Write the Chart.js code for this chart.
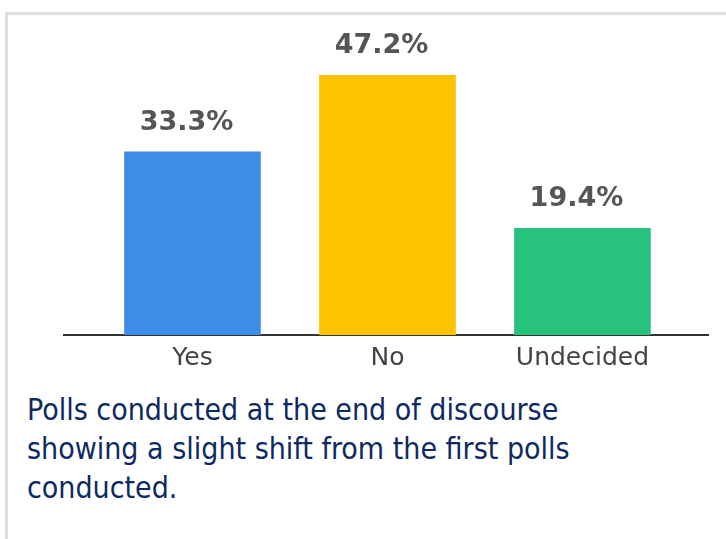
<!DOCTYPE html>
<html>
<head>
<meta charset="utf-8">
<script src="https://cdn.jsdelivr.net/npm/chart.js@4"></script>
<style>
  body { margin: 0; background: #fff; }
  #page { position: relative; width: 726px; height: 539px; overflow: hidden; }
  #frame { position: absolute; left: 5px; top: 12px; right: 0; bottom: 0;
           border-top: 3px solid #dedede; border-left: 3px solid #dedede; }
  #chartbox { position: absolute; left: 0; top: 0; width: 726px; height: 379px; }
  #caption { position: absolute; left: 27px; top: 390px; width: 690px;
             font-family: "DejaVu Sans Condensed", "DejaVu Sans", sans-serif; font-size: 30px;
             line-height: 39px; color: #0d2a62; }
</style>
</head>
<body>
<div id="page">
  <div id="frame"></div>
  <div id="chartbox"><canvas id="myChart" width="726" height="379"></canvas></div>
  <div id="caption">Polls conducted at the end of discourse<br>showing a slight shift from the first polls<br>conducted.</div>
</div>
<script>
var categories = ['Yes', 'No', 'Undecided']
var values = [33.3, 47.2, 19.4]
var valueLabels = ['33.3%', '47.2%', '19.4%']
var colors = ['#3e8de8', '#fdc300', '#27c27c']

var points = categories.map(function (c, i) { return { x: i, y: values[i] } })

// writes the percentage above each bar
var barLabels = {
    id: 'barLabels',
    afterDatasetsDraw: function (chart) {
        var ctx = chart.ctx
        var meta = chart.getDatasetMeta(0)
        ctx.save()
        ctx.font = 'bold 27px "DejaVu Sans", Verdana, sans-serif'
        ctx.fillStyle = '#555555'
        ctx.textAlign = 'center'
        ctx.textBaseline = 'middle'
        meta.data.forEach(function (bar, i) {
            ctx.fillText(valueLabels[i], bar.x - 6, bar.y - 29)
        })
        ctx.restore()
    }
}

function setChart() {
    var ctx = document.getElementById('myChart')
    new Chart(ctx, {
        type: 'bar',
        data: {
            datasets: [{
                data: points,
                backgroundColor: colors,
                borderWidth: 0,
                barThickness: 136
            }]
        },
        plugins: [barLabels],
        options: {
            responsive: false,
            animation: false,
            layout: { padding: { left: 64, right: 18, top: 60, bottom: 6 } },
            plugins: { legend: { display: false }, tooltip: { enabled: false } },
            scales: {
                x: {
                    type: 'linear',
                    offset: false,
                    min: -0.659,
                    max: 2.644,
                    grid: { display: false },
                    border: { display: true, color: '#333333', width: 2 },
                    ticks: {
                        stepSize: 1,
                        includeBounds: false,
                        autoSkip: false,
                        maxRotation: 0,
                        padding: 0,
                        color: '#444444',
                        font: { family: '"DejaVu Sans", sans-serif', size: 25 },
                        callback: function (v) {
                            var k = Math.round(v)
                            return Math.abs(v - k) < 1e-6 && categories[k] ? categories[k] : ''
                        }
                    }
                },
                y: {
                    display: false,
                    min: 0,
                    max: 50
                }
            }
        }
    })
}
setChart()
</script>
</body>
</html>
